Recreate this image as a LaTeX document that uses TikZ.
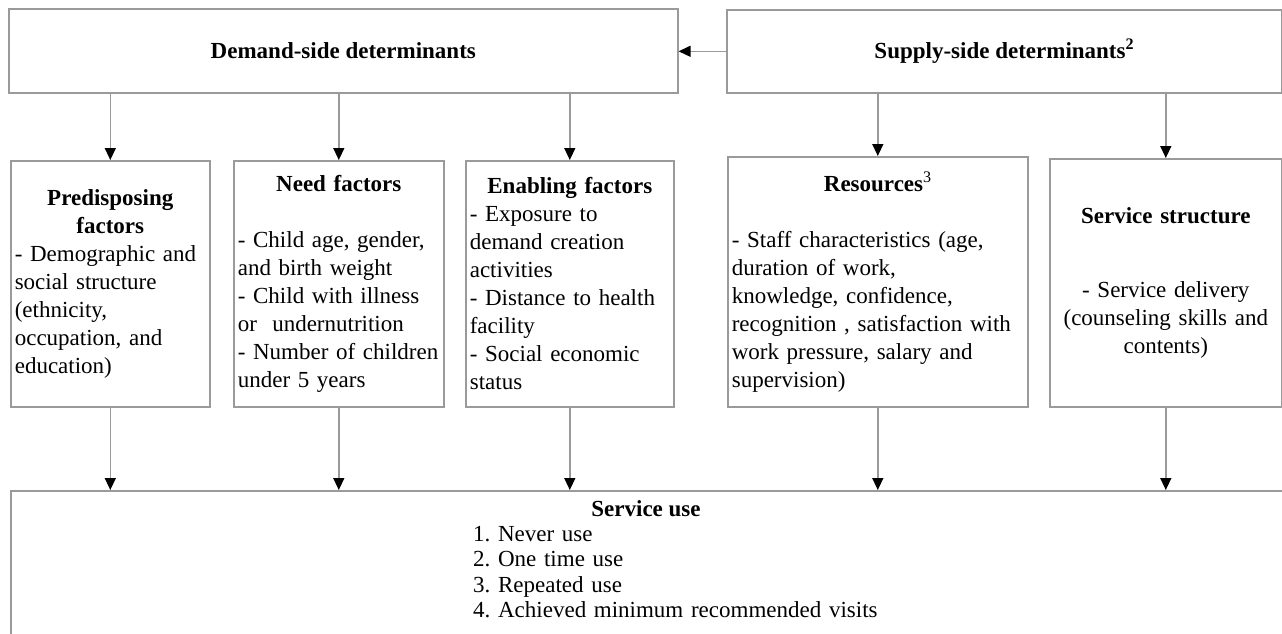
\documentclass[tikz,border=0pt]{standalone}
\usepackage{fontspec}
\setmainfont{Liberation Serif}
\usetikzlibrary{arrows.meta}
\definecolor{linegray}{HTML}{9A9A9A}
\setlength{\parindent}{0pt}
\setlength{\parskip}{0pt}
\frenchspacing

\begin{document}
\begin{tikzpicture}[x=1pt,y=-1pt,
  box/.style={draw=linegray,line width=1.6pt,anchor=north west,inner sep=4pt,
    font=\fontsize{23}{28}\selectfont},
  arr/.style={draw=linegray,line width=1.4pt,-{Triangle[width=11pt,length=12pt,black]}}]
  \useasboundingbox (0,0) rectangle (1282,634);
  %
  \node[box,minimum width=669pt,minimum height=84pt] (dem) at (8,8)
    {\bfseries Demand-side determinants};
  \node[box,minimum width=555pt,minimum height=83pt] (sup) at (726,9)
    {\bfseries Supply-side determinants\textsuperscript{2}};
  \draw[arr] (sup.west) -- (sup.west -| dem.east);
  %
  \node[box,align=left,text width=191pt,minimum height=246pt] (pre) at (10,160)
    {{\centering\bfseries Predisposing\\ factors\par}
     - Demographic and\\ social structure\\ (ethnicity,\\ occupation, and\\ education)};
  \node[box,align=left,text width=202pt,minimum height=246pt] (need) at (233,160)
    {{\centering\bfseries Need factors\par}\vspace{28pt}
     - Child age, gender,\\ and birth weight\\ - Child with illness\\ or\ \ undernutrition\\
     - Number of children\\ under 5 years};
  \node[box,align=left,text width=200pt,minimum height=246pt] (enab) at (465,160)
    {{\centering\bfseries Enabling factors\par}
     - Exposure to\\ demand creation\\ activities\\ - Distance to health\\ facility\\
     - Social economic\\ status};
  \node[box,align=left,text width=292pt,minimum height=250pt] (res) at (727,156)
    {{\centering\bfseries Resources\textsuperscript{\mdseries 3}\par}\vspace{28pt}
     - Staff characteristics (age,\\ duration of work,\\ knowledge, confidence,\\
     recognition , satisfaction with\\ work pressure, salary and\\ supervision)};
  \node[box,align=center,text width=224pt,minimum height=248pt] (sstr) at (1049,158)
    {\textbf{Service structure}\\[46pt] - Service delivery\\ (counseling skills and\\ contents)\par\vspace{28pt}};
  %
  \draw[arr] (pre.north |- dem.south) -- (pre.north);
  \draw[arr] (need.north |- dem.south) -- (need.north);
  \draw[arr] (enab.north |- dem.south) -- (enab.north);
  \draw[arr] (res.north |- sup.south) -- (res.north);
  \draw[arr] (sstr.north |- sup.south) -- (sstr.north);
  %
  \node[box,minimum width=1290pt,minimum height=170pt] (use) at (10,490) {};
  \node[font=\fontsize{23}{28}\selectfont\bfseries] (usehead) at (646,509) {Service use};
  \node[anchor=north west,inner sep=0pt,align=left,text width=420pt,
    font=\fontsize{23}{25.5}\selectfont] (uselist) at (473,526)
    {1. Never use\\ 2. One time use\\ 3. Repeated use\\ 4. Achieved minimum recommended visits};
  %
  \draw[arr] (pre.south) -- (pre.south |- use.north);
  \draw[arr] (need.south) -- (need.south |- use.north);
  \draw[arr] (enab.south) -- (enab.south |- use.north);
  \draw[arr] (res.south) -- (res.south |- use.north);
  \draw[arr] (sstr.south) -- (sstr.south |- use.north);
\end{tikzpicture}
\end{document}
